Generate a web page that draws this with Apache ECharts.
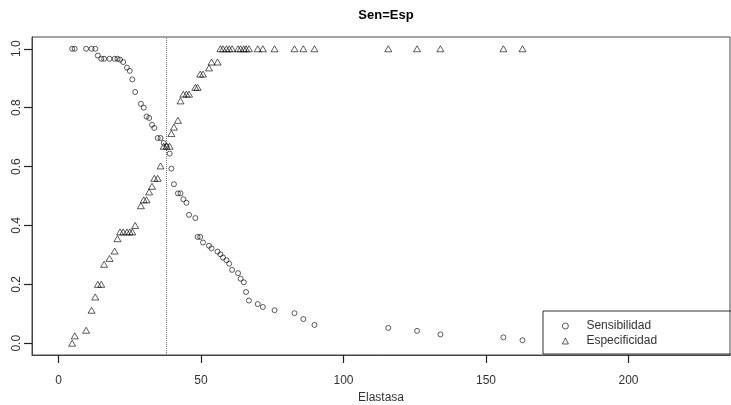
<!DOCTYPE html>
<html>
<head>
<meta charset="utf-8">
<title>Sen=Esp</title>
<script src="https://cdn.jsdelivr.net/npm/echarts@6/dist/echarts.min.js"></script>
<style>
  html, body { margin: 0; padding: 0; background: #fff; }
  #chart { width: 731px; height: 405px; }
</style>
</head>
<body>
<div id="chart"></div>
<script>
// Cut-off values of elastasa
const cutoffs = [
  4.8, 5.7, 9.7, 11.6, 12.9, 13.8, 15.0, 16.0, 17.9, 19.7,
  20.7, 21.6, 22.7, 24.0, 25.0, 25.9, 26.9, 28.9, 29.9, 30.9,
  31.8, 32.8, 33.6, 34.8, 35.8, 36.9, 37.9, 39.0, 39.6, 40.5,
  41.9, 42.8, 43.8, 44.9, 45.8, 48.0, 48.8, 49.7, 50.7, 52.8,
  53.7, 55.8, 56.8, 57.7, 58.9, 59.9, 60.9, 63.0, 63.9, 65.0,
  65.8, 66.8, 69.9, 71.7, 75.8, 82.8, 85.9, 89.8, 115.7, 125.8,
  134.0, 156.1, 162.8
];

// Sensitivity at each cut-off
const sensibilidad = [
  1, 1, 1, 1, 1, 0.977, 0.966, 0.966, 0.966, 0.966,
  0.966, 0.963, 0.955, 0.936, 0.925, 0.896, 0.853, 0.813, 0.800, 0.770,
  0.765, 0.742, 0.731, 0.697, 0.697, 0.680, 0.669, 0.644, 0.593, 0.540,
  0.509, 0.509, 0.489, 0.477, 0.436, 0.425, 0.361, 0.361, 0.342, 0.331,
  0.322, 0.311, 0.302, 0.291, 0.282, 0.270, 0.249, 0.238, 0.219, 0.207,
  0.174, 0.145, 0.133, 0.123, 0.112, 0.102, 0.082, 0.062, 0.052, 0.042,
  0.030, 0.020, 0.010
];

// Specificity at each cut-off
const especificidad = [
  0, 0.025, 0.044, 0.112, 0.157, 0.200, 0.200, 0.268, 0.288, 0.313,
  0.355, 0.378, 0.378, 0.378, 0.378, 0.378, 0.400, 0.467, 0.487, 0.487,
  0.514, 0.533, 0.560, 0.560, 0.602, 0.669, 0.669, 0.669, 0.712, 0.734,
  0.757, 0.823, 0.846, 0.846, 0.846, 0.869, 0.869, 0.914, 0.914, 0.935,
  0.955, 0.955, 1, 1, 1, 1, 1, 1, 1, 1,
  1, 1, 1, 1, 1, 1, 1, 1, 1, 1,
  1, 1, 1
];

// Cut-off where sensitivity equals specificity
const corte = 37.8;

const xTicks = [0, 50, 100, 150, 200];
const yTicks = [0, 0.2, 0.4, 0.6, 0.8, 1.0];

const pairs = (xs, ys) => xs.map((x, i) => [x, ys[i]]);

const font = 'Liberation Sans, Arial, Helvetica, sans-serif';
const ink = '#333';

const chart = echarts.init(document.getElementById('chart'), null, { renderer: 'canvas' });

chart.setOption({
  backgroundColor: '#ffffff',
  animation: false,
  title: {
    text: 'Sen=Esp',
    left: 381,
    textAlign: 'center',
    top: 4,
    textStyle: { fontFamily: font, fontSize: 13, fontWeight: 'bold', color: '#000' }
  },
  grid: {
    left: 32, top: 37, right: 1, bottom: 50,
    containLabel: false,
    outerBoundsMode: 'none',
    show: true, borderColor: '#444', borderWidth: 1
  },
  legend: {
    orient: 'vertical',
    left: 543, top: 311,
    padding: [8, 90, 6, 19],
    borderColor: '#333', borderWidth: 1,
    itemWidth: 6, itemHeight: 6, itemGap: 1,
    textStyle: {
      fontFamily: font, fontSize: 12, lineHeight: 14, color: ink,
      padding: [0, 0, 0, 13]
    },
    data: [
      { name: 'Sensibilidad', icon: 'circle',
        itemStyle: { color: 'rgba(0,0,0,0)', borderColor: '#000', borderWidth: 0.8 } },
      { name: 'Especificidad', icon: 'triangle',
        itemStyle: { color: 'rgba(0,0,0,0)', borderColor: '#000', borderWidth: 0.8 } }
    ]
  },
  xAxis: {
    type: 'value',
    min: -9.3, max: 235.6,
    name: 'Elastasa',
    nameLocation: 'middle',
    nameGap: 35,
    nameTextStyle: { fontFamily: font, fontSize: 12, color: ink },
    splitLine: { show: false },
    axisLine: { show: true, onZero: false, lineStyle: { color: '#444', width: 1 } },
    axisTick: { show: true, length: 8, customValues: xTicks, lineStyle: { color: '#222', width: 1.2 } },
    axisLabel: {
      customValues: xTicks, margin: 20,
      fontFamily: font, fontSize: 12, color: ink
    }
  },
  yAxis: {
    type: 'value',
    min: -0.04, max: 1.04,
    splitLine: { show: false },
    axisLine: { show: true, onZero: false, lineStyle: { color: '#444', width: 1 } },
    axisTick: { show: true, length: 8, customValues: yTicks, lineStyle: { color: '#222', width: 1.2 } },
    axisLabel: {
      customValues: yTicks, margin: 9, rotate: 90,
      formatter: v => v.toFixed(1),
      fontFamily: font, fontSize: 12, color: ink
    }
  },
  series: [
    {
      name: 'Sensibilidad',
      type: 'scatter',
      symbol: 'circle',
      symbolSize: 5,
      data: pairs(cutoffs, sensibilidad),
      itemStyle: { color: 'rgba(0,0,0,0)', borderColor: '#000', borderWidth: 0.8 },
      markLine: {
        silent: true,
        symbol: 'none',
        label: { show: false },
        lineStyle: { type: 'dotted', color: '#777', width: 1 },
        data: [{ xAxis: corte }]
      }
    },
    {
      name: 'Especificidad',
      type: 'scatter',
      symbol: 'triangle',
      symbolSize: [7, 6],
      data: pairs(cutoffs, especificidad),
      itemStyle: { color: 'rgba(0,0,0,0)', borderColor: '#000', borderWidth: 0.8 }
    }
  ]
});
</script>
</body>
</html>
